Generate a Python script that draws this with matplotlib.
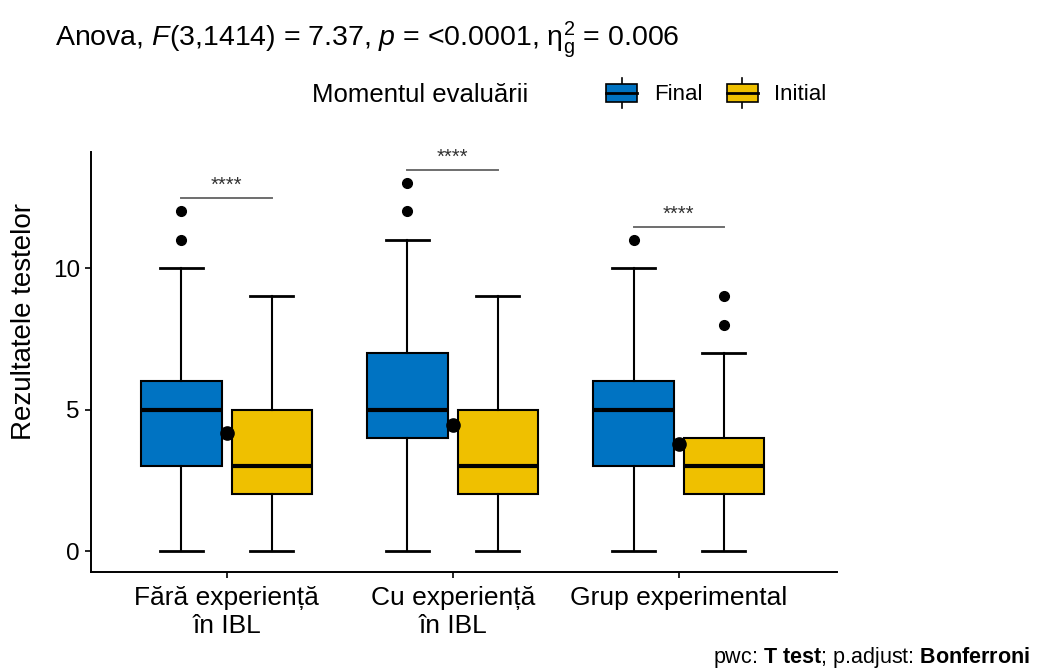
import matplotlib
matplotlib.use('Agg')
import matplotlib.pyplot as plt
from matplotlib.legend_handler import HandlerBase
from matplotlib.patches import Rectangle, Patch
from matplotlib.lines import Line2D

plt.rcParams['font.family'] = ['Liberation Sans', 'DejaVu Sans']
plt.rcParams['mathtext.fontset'] = 'custom'
plt.rcParams['mathtext.rm'] = 'Liberation Sans'
plt.rcParams['mathtext.it'] = 'Liberation Sans:italic'
plt.rcParams['mathtext.bf'] = 'Liberation Sans:bold'

# ---------------- data ----------------
categories = ["Fără experiență\nîn IBL", "Cu experiență\nîn IBL", "Grup experimental"]
series = ["Final", "Initial"]
colors = ["#0073C2", "#EFC000"]

final_whislo = [0, 0, 0]
final_q1 = [3, 4, 3]
final_med = [5, 5, 5]
final_q3 = [6, 7, 6]
final_whishi = [10, 11, 10]
final_fliers = [[11, 12], [12, 13], [11]]

initial_whislo = [0, 0, 0]
initial_q1 = [2, 2, 2]
initial_med = [3, 3, 3]
initial_q3 = [5, 5, 4]
initial_whishi = [9, 9, 7]
initial_fliers = [[], [], [8, 9]]

group_means = [4.18, 4.45, 3.78]
sig_labels = ["****", "****", "****"]
sig_y = [12.47, 13.46, 11.45]

yticks = [0, 5, 10]

# ---------------- figure ----------------
W, H = 1054, 669
fig = plt.figure(figsize=(W / 100, H / 100), dpi=100)
ax = fig.add_axes([91 / W, 1 - 572 / H, (837 - 91) / W, (572 - 152) / H])

dodge = 0.2
box_w = 0.355
cap_w = 0.19

def make_stats(wl, q1, md, q3, wh, fl):
    return [dict(whislo=a, q1=b, med=c, q3=d, whishi=e, fliers=f)
            for a, b, c, d, e, f in zip(wl, q1, md, q3, wh, fl)]

stats_list = [
    make_stats(final_whislo, final_q1, final_med, final_q3, final_whishi, final_fliers),
    make_stats(initial_whislo, initial_q1, initial_med, initial_q3, initial_whishi, initial_fliers),
]

xs = list(range(1, len(categories) + 1))

for si, (stats, col) in enumerate(zip(stats_list, colors)):
    pos = [x + (-dodge if si == 0 else dodge) for x in xs]
    bp = ax.bxp(stats, positions=pos, widths=box_w, capwidths=cap_w,
                patch_artist=True, manage_ticks=False,
                boxprops=dict(edgecolor='black', linewidth=1.5),
                medianprops=dict(color='black', linewidth=3.0, solid_capstyle='butt'),
                whiskerprops=dict(color='black', linewidth=1.5),
                capprops=dict(color='black', linewidth=2.0),
                flierprops=dict(marker='o', markerfacecolor='black',
                                markeredgecolor='black', markersize=7))
    for b in bp['boxes']:
        b.set_facecolor(col)
        b.set_zorder(2)
    for l in bp['medians']:
        l.set_zorder(3)

# mean points
ax.plot(xs, group_means, linestyle='none', marker='o', markersize=9.5,
        color='black', zorder=5)

# significance brackets
for x, y, lab in zip(xs, sig_y, sig_labels):
    ax.plot([x - dodge, x + dodge], [y, y], color='#6e6e6e', linewidth=1.4, zorder=4)
    ax.text(x, y + 0.1, lab, ha='center', va='bottom', fontsize=14.5,
            color='#333333')

ax.set_xlim(0.4, 3.7)
ax.set_ylim(-0.74, 14.1)
ax.set_xticks(xs)
ax.set_xticklabels(categories, fontsize=19, linespacing=1.2)
ax.set_yticks(yticks)
ax.set_yticklabels([str(v) for v in yticks], fontsize=17.5)
for s in ('top', 'right'):
    ax.spines[s].set_visible(False)
for s in ('left', 'bottom'):
    ax.spines[s].set_linewidth(1.4)
ax.tick_params(axis='both', length=4, width=1.2, color='black', labelcolor='black')
ax.tick_params(axis='x', pad=6)
ax.tick_params(axis='y', pad=4)

fig.text(24 / W, 1 - 322 / H, "Rezultatele testelor", rotation=90,
         ha='center', va='center', fontsize=20)

# title
fig.text(55 / W, 1 - 40 / H,
         r"Anova, $\it{F}$(3,1414) = 7.37, $\it{p}$ = <0.0001, $\mathrm{\eta}_\mathrm{g}^{2}$ = 0.006",
         ha='left', va='center', fontsize=20.5)

# legend
class BoxHandler(HandlerBase):
    def create_artists(self, legend, orig_handle, xdescent, ydescent,
                       width, height, fontsize, trans):
        fc = orig_handle.get_facecolor()
        bh = height * 1.1
        y0 = (height - bh) / 2 - ydescent
        r = Rectangle((-xdescent, y0), width, bh, facecolor=fc,
                      edgecolor='black', linewidth=1.2, transform=trans)
        cx = -xdescent + width / 2
        wl = Line2D([cx, cx], [y0 - bh * 0.35, y0 + bh * 1.35], color='black',
                    linewidth=1.2, transform=trans)
        ml = Line2D([-xdescent, -xdescent + width], [y0 + bh / 2] * 2,
                    color='black', linewidth=2.0, transform=trans)
        return [wl, r, ml]

handles = [Patch(facecolor=c, edgecolor='black') for c in colors]
fig.text(312 / W, 1 - 95 / H, "Momentul evaluării", ha='left', va='center',
         fontsize=18.5)
fig.legend(handles, series, loc='center left',
           bbox_to_anchor=(606 / W, 1 - 95 / H), ncol=2, frameon=False,
           fontsize=16, handler_map={Patch: BoxHandler()},
           handlelength=1.4, handleheight=0.75, handletextpad=0.75,
           columnspacing=1.1, borderaxespad=0, borderpad=0)

# caption
fig.text(1030 / W, 1 - 658 / H,
         r"pwc: $\bf{T\ test}$; p.adjust: $\bf{Bonferroni}$",
         ha='right', va='center', fontsize=15.5)

fig.savefig('out.png', dpi=100)
